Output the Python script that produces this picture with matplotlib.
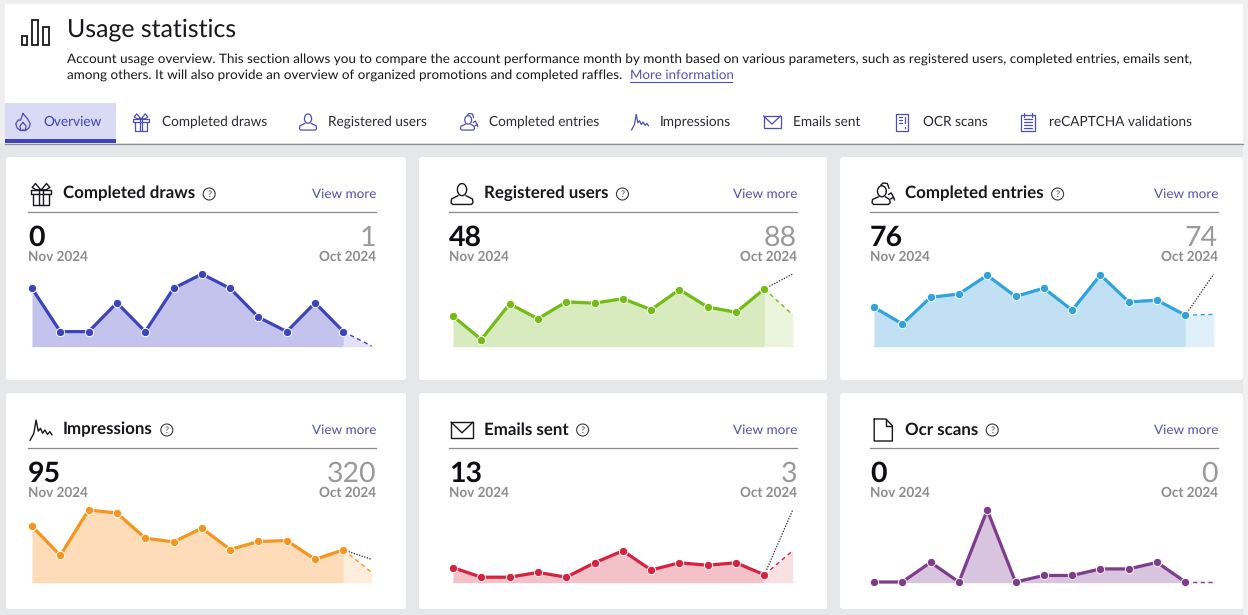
"""Usage statistics dashboard: six small area cards with header and tabs."""
import matplotlib
matplotlib.use("Agg")
import matplotlib.pyplot as plt
import numpy as np
from matplotlib.patches import Circle, FancyBboxPatch, Rectangle

W, H = 1248, 615
plt.rcParams["font.family"] = ["Lato", "DejaVu Sans"]
plt.rcParams["text.hinting"] = "no_hinting"

# data: 12 monthly values, then the current month as the projected 13th point
card_titles = ["Completed draws", "Registered users", "Completed entries",
               "Impressions", "Emails sent", "Ocr scans"]
current_values = ["0", "48", "76", "95", "13", "0"]
previous_values = ["1", "88", "74", "320", "3", "0"]
current_month = "Nov 2024"
previous_month = "Oct 2024"

draws = [4, 1, 1, 3, 1, 4, 5, 4, 2, 1, 3, 1, 0]
users = [46, 10, 65, 42, 68, 66, 73, 56, 87, 60, 52, 88, 48]
entries = [93, 53, 117, 125, 170, 119, 139, 86, 171, 106, 110, 74, 76]
impressions = [554, 264, 716, 686, 436, 399, 535, 323, 403, 412, 225, 320, 95]
emails = [6, 2, 2, 4, 2, 8, 13, 5, 8, 7, 8, 3, 13]
ocr = [0, 0, 3, 0, 11, 0, 1, 1, 2, 2, 3, 0, 0]
card_series = [draws, users, entries, impressions, emails, ocr]

# black dotted trend end value, where the card has one
trend_ends = [None, 111, 173, 225, 30, None]

line_colors = ["#3b44bd", "#74bb13", "#2fa3dc", "#f7941d", "#d6213f", "#7e3c8c"]
fill_colors = ["#c4c3ee", "#d7ebbe", "#c1e0f4", "#fedcba", "#f3c1c8", "#d9c4df"]
soft_colors = ["#e2e1f7", "#ebf5de", "#e0f0fa", "#ffeddc", "#f9e0e3", "#ece1ef"]

tab_names = ["Overview", "Completed draws", "Registered users", "Completed entries",
             "Impressions", "Emails sent", "OCR scans", "reCAPTCHA validations"]
tab_text_x = [43, 162, 328, 489, 660, 793, 923, 1049]
tab_icon_x = [23, 141, 308, 469, 640, 772, 902, 1028]
tab_icons = ["flame", "gift", "user", "users", "spark", "mail", "scan", "list"]
card_icons = ["gift", "user", "users", "spark", "mail", "doc"]

INK = "#17171c"
BLUE = "#3b44bd"
LINK = "#4f4fb5"
GREY = "#8c8c8c"
ICON_TAB = "#4a4fb8"


def draw_icon(ax, kind, cx, cy, s, color, lw=1.0):
    """Outline icon centred on (cx, cy), s is half its size in pixels."""
    def line(xs, ys):
        ax.plot([cx + x * s for x in xs], [cy + y * s for y in ys],
                color=color, lw=lw, solid_capstyle="round", solid_joinstyle="round")

    if kind == "gift":
        line([-0.9, 0.9, 0.9, -0.9, -0.9], [-0.35, -0.35, 0.0, 0.0, -0.35])
        line([-0.75, -0.75, 0.75, 0.75], [0.0, 1.0, 1.0, 0.0])
        line([-0.15, -0.15], [-0.35, 1.0])
        line([0.15, 0.15], [-0.35, 1.0])
        line([0, -0.5, -0.8, -0.5, 0], [-0.35, -0.95, -0.6, -0.4, -0.35])
        line([0, 0.5, 0.8, 0.5, 0], [-0.35, -0.95, -0.6, -0.4, -0.35])
    elif kind == "user":
        t = np.linspace(0, 2 * np.pi, 40)
        line(0.42 * np.cos(t), -0.4 + 0.55 * np.sin(t))
        line([-0.35, -0.95, -1.0, -0.85, 0.85, 1.0, 0.95, 0.35],
             [0.15, 0.45, 0.8, 0.95, 0.95, 0.8, 0.45, 0.15])
    elif kind == "users":
        t = np.linspace(0, 2 * np.pi, 40)
        line(-0.1 + 0.4 * np.cos(t), -0.25 + 0.5 * np.sin(t))
        line([-0.4, -0.95, -1.0, -0.85, 0.5, 0.65, 0.6, 0.2],
             [0.25, 0.5, 0.8, 0.95, 0.95, 0.8, 0.5, 0.25])
        line([-0.2, 0.0, 0.4, 0.55], [-0.8, -1.0, -0.95, -0.5])
        line([0.5, 0.75, 0.95], [0.05, -0.1, 0.3])
        line([0.7, 0.95, 1.05], [0.45, 0.3, 0.55])
    elif kind == "spark":
        line([-1.0, -0.65, -0.45, -0.25, -0.05, 0.15, 0.35, 0.6, 0.8, 1.0],
             [0.95, 0.3, -0.9, 0.1, -0.15, 0.3, 0.0, 0.4, 0.15, 0.45])
    elif kind == "mail":
        line([-1.0, 1.0, 1.0, -1.0, -1.0], [-0.72, -0.72, 0.72, 0.72, -0.72])
        line([-1.0, 0.0, 1.0], [-0.72, 0.25, -0.72])
    elif kind == "doc":
        line([-0.8, 0.25, 0.85, 0.85, -0.8, -0.8], [-1.0, -1.0, -0.4, 1.0, 1.0, -1.0])
        line([0.25, 0.25, 0.85], [-1.0, -0.4, -0.4])
    elif kind == "scan":
        line([-0.7, 0.7, 0.7, -0.7, -0.7], [-1.0, -1.0, 1.0, 1.0, -1.0])
        line([-0.35, -0.05], [-0.55, -0.55])
        line([-0.35, -0.05], [-0.2, -0.2])
        line([-0.35, -0.05], [0.15, 0.15])
        line([0.3, 0.3], [-0.55, 0.15])
        line([0.3, 0.3], [0.6, 0.68])
    elif kind == "list":
        line([-0.85, 0.85, 0.85, -0.85, -0.85], [-0.8, -0.8, 1.0, 1.0, -0.8])
        for y in [-0.35, 0.0, 0.35, 0.7]:
            line([-0.5, 0.5], [y, y])
        line([-0.45, -0.45], [-1.05, -0.6])
        line([0.45, 0.45], [-1.05, -0.6])
    elif kind == "flame":
        line([0.0, 0.55, 0.85, 0.7, 0.3, -0.3, -0.7, -0.85, -0.55, -0.3, 0.0],
             [-1.0, -0.35, 0.2, 0.7, 1.0, 1.0, 0.7, 0.2, -0.25, -0.2, -1.0])
        line([0.0, 0.35, 0.3, -0.3, -0.35, 0.0], [0.05, 0.45, 0.95, 0.95, 0.45, 0.05])


fig = plt.figure(figsize=(W / 100, H / 100), dpi=100, facecolor="#e6e7e9")
bg = fig.add_axes([0, 0, 1, 1])
bg.set_xlim(0, W)
bg.set_ylim(H, 0)
bg.axis("off")

# page frame
bg.add_patch(Rectangle((0, 0), W, 4, color="#efefef", lw=0))
bg.add_patch(Rectangle((1243, 0), 5, H, color="#f0f0f0", lw=0))
bg.add_patch(Rectangle((0, 0), 5, 143, color="#efefef", lw=0))
bg.add_patch(Rectangle((5, 4), 1238, 139, color="white", lw=0))

# header
for bx, by, bw, bh in [(21.5, 36, 5.5, 9), (32, 19.5, 6, 25.5), (43, 27, 6, 18)]:
    bg.add_patch(Rectangle((bx, by), bw, bh, fill=False, ec=INK, lw=1.3))
bg.text(67, 30, "Usage statistics", fontsize=17.9, color=INK, va="center")
bg.text(67, 59.5, "Account usage overview. This section allows you to compare the account "
        "performance month by month based on various parameters, such as registered "
        "users, completed entries, emails sent,", fontsize=9.7, color=INK, va="center")
bg.text(67, 75.5, "among others. It will also provide an overview of organized promotions "
        "and completed raffles. ", fontsize=9.7, color=INK, va="center")
bg.text(630, 75.5, "More information", fontsize=9.6, color=LINK, va="center")
bg.plot([630, 732], [82, 82], color=LINK, lw=0.8)

# tabs
bg.add_patch(Rectangle((5, 103), 111, 36, color="#d9daf4", lw=0))
bg.add_patch(Rectangle((5, 139), 111, 4, color=BLUE, lw=0))
bg.plot([5, 1243], [143.5, 143.5], color="#8f8f8f", lw=0.9)
for i, name in enumerate(tab_names):
    bg.text(tab_text_x[i], 122, name, fontsize=9.8, va="center",
            color=BLUE if i == 0 else "#2a2a33")
    draw_icon(bg, tab_icons[i], tab_icon_x[i], 122, 8.5, ICON_TAB, lw=0.9)

# card boxes and their chart positions
card_left = [6, 419, 840]
card_right = [406, 827, 1243]
row_top = [157, 393]
row_bottom = [380, 609]
content_left = [28, 449, 870]
content_right = [376, 797, 1218]
chart_left = [32, 453, 874]
chart_right = [371.7, 792.7, 1213.7]
chart_base = [346, 582]
CHART_HEIGHT = 72

renderer = fig.canvas.get_renderer()

for i, title in enumerate(card_titles):
    col, row = i % 3, i // 3
    top = row_top[row]
    bg.add_patch(FancyBboxPatch((card_left[col], top), card_right[col] - card_left[col],
                                row_bottom[row] - top,
                                boxstyle="round,pad=0,rounding_size=3",
                                fc="white", ec="none"))
    lx, rx = content_left[col], content_right[col]
    head_y = top + 36
    draw_icon(bg, card_icons[i], lx + 13, head_y + 1, 11, INK, lw=1.0)
    label = bg.text(lx + 35, head_y + 0.5, title, fontsize=12.2, fontweight="bold",
                    color=INK, va="center")
    ext = label.get_window_extent(renderer)
    qx = ext.x1 + 14
    bg.add_patch(Circle((qx, head_y + 1), 6, fill=False, ec="#3a3a3a", lw=0.8))
    bg.text(qx, head_y + 1, "?", fontsize=6.5, color="#3a3a3a", ha="center", va="center")
    bg.text(rx, head_y + 1, "View more", fontsize=9.7, color=LINK, ha="right", va="center")
    bg.plot([lx, rx], [head_y + 19, head_y + 19], color="#8a8a8a", lw=0.9)
    bg.text(lx, head_y + 45, current_values[i], fontsize=20.5, fontweight="bold",
            color="#0e0e12", va="center")
    bg.text(rx, head_y + 45, previous_values[i], fontsize=20.5, color="#9a9a9a",
            ha="right", va="center")
    bg.text(lx, head_y + 64, current_month, fontsize=9.75, fontweight="bold",
            color=GREY, va="center")
    bg.text(rx, head_y + 64, previous_month, fontsize=9.75, fontweight="bold",
            color=GREY, ha="right", va="center")

    # the sparkline itself, on its own axes: x is the month index, y the value
    series = card_series[i]
    trend = trend_ends[i]
    ymax = max(series + ([trend] if trend else []))
    x0, x1 = chart_left[col], chart_right[col]
    base = chart_base[row]
    ax = fig.add_axes([x0 / W, 1 - base / H, (x1 - x0) / W, CHART_HEIGHT / H])
    ax.set_xlim(0, 12)
    ax.set_ylim(0, ymax)
    ax.axis("off")
    ax.patch.set_alpha(0)
    months = np.arange(len(series))
    ax.fill_between(months[:12], series[:12], 0, color=fill_colors[i], lw=0)
    ax.fill_between(months[11:], series[11:], 0, color=soft_colors[i], lw=0)
    ax.plot([0, 11], [0, 0], color=fill_colors[i], lw=1.0, clip_on=False)
    ax.plot([11, 12], [0, 0], color=soft_colors[i], lw=1.0, clip_on=False)
    ax.plot(months[11:], series[11:], color=line_colors[i], lw=1.0,
            dashes=(3, 2.5), clip_on=False)
    if trend is not None:
        ax.plot([11, 12], [series[11], trend], color="#222222", lw=0.9,
                dashes=(1, 1.2), clip_on=False)
    ax.plot(months[:12], series[:12], color=line_colors[i], lw=2.3, marker="o",
            ms=6.0, mec="white", mew=0.7, clip_on=False, solid_joinstyle="round")

fig.savefig("out.png", dpi=100)
plt.close(fig)
